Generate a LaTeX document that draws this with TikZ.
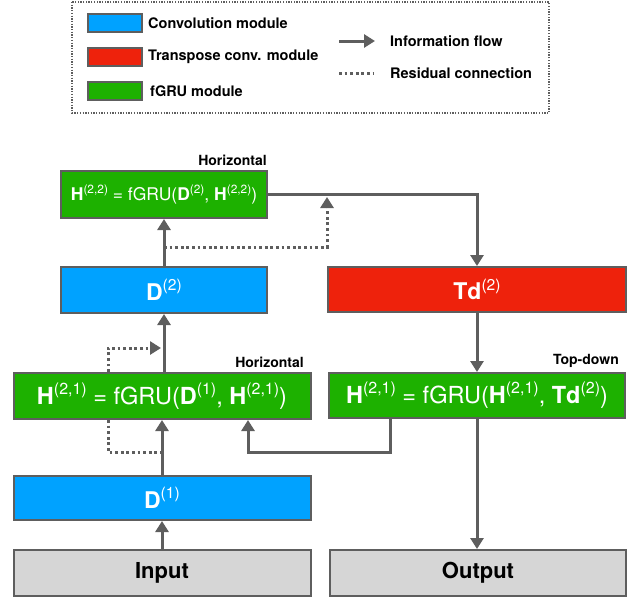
\documentclass[tikz,border=0pt]{standalone}
\usepackage{fontspec}
\setmainfont{TeX Gyre Heros}
\usetikzlibrary{arrows.meta}
\definecolor{cblue}{HTML}{00A2FF}
\definecolor{cred}{HTML}{EE220C}
\definecolor{cgreen}{HTML}{1DB100}
\definecolor{cgray}{HTML}{D6D6D6}
\definecolor{cline}{HTML}{5E5E5E}
\makeatletter
\newcommand\supx[1]{\raisebox{0.42em}{\fontsize{\dimexpr 0.68\dimexpr\f@size pt\relax\relax}{1em}\selectfont\mdseries #1}}
\makeatother
\tikzset{
  box/.style={draw=cline, line width=2pt, inner sep=0pt, text=white, font=\fontsize{23.5}{25}\selectfont},
  convbox/.style={box, fill=cblue},
  tdbox/.style={box, fill=cred},
  grubox/.style={box, fill=cgreen},
  iobox/.style={box, fill=cgray, text=black, font=\fontsize{22}{24}\selectfont\bfseries},
  arr/.style={draw=cline, line width=3pt, -{Triangle[length=11pt,width=13pt]}},
  res/.style={draw=cline, line width=3pt, dash pattern=on 2.8pt off 2.8pt},
  resarr/.style={res, -{Triangle[length=11pt,width=13pt]}},
  lbl/.style={font=\fontsize{14}{16}\selectfont\bfseries, inner sep=0pt},
  legtxt/.style={font=\fontsize{14.5}{17}\selectfont\bfseries, anchor=west, inner sep=0pt},
  swatch/.style={draw=cline, line width=2pt, minimum width=54pt, minimum height=18pt, inner sep=0pt}
}
\begin{document}
\begin{tikzpicture}[x=1pt,y=-1pt]
\useasboundingbox (0,0) rectangle (632,598);
% legend
\draw[cline, line width=1.4pt, dash pattern=on 1.3pt off 1.4pt] (72,2) rectangle (549,113);
\node[swatch, fill=cblue] (s1) at (115,23) {};
\node[swatch, fill=cred] (s2) at (115,57) {};
\node[swatch, fill=cgreen] (s3) at (115,91) {};
\node[legtxt] (t1) at (148,23) {Convolution module};
\node[legtxt] (t2) at (148,57) {Transpose conv. module};
\node[legtxt] (t3) at (150,91) {fGRU module};
\coordinate (la1) at (339,41);
\coordinate (la2) at (375,41);
\draw[arr] (la1) -- (la2);
\node[legtxt] (t4) at (390,41) {Information flow};
\coordinate (lb1) at (339,73);
\coordinate (lb2) at (374,73);
\draw[res] (lb1) -- (lb2);
\node[legtxt] (t5) at (390,73) {Residual connection};
% main boxes
\node[grubox, minimum width=206pt, minimum height=47pt, font=\fontsize{17.5}{20}\selectfont] (h22) at (164,194.5)
  {\textbf{H}\supx{(2,2)} = fGRU(\textbf{D}\supx{(2)}, \textbf{H}\supx{(2,2)})};
\node[lbl, anchor=south east] (lh22) at (267,166) {Horizontal};
\node[convbox, minimum width=206pt, minimum height=46pt, font=\fontsize{23}{25}\selectfont] (d2) at (164,290) {\textbf{D}\supx{(2)}};
\node[tdbox, minimum width=298pt, minimum height=45pt, font=\fontsize{23}{25}\selectfont] (td) at (477,289.5) {\textbf{Td}\supx{(2)}};
\node[grubox, minimum width=297pt, minimum height=46pt] (h21l) at (162,396)
  {\textbf{H}\supx{(2,1)} = fGRU(\textbf{D}\supx{(1)}, \textbf{H}\supx{(2,1)})};
\node[lbl, anchor=south east] (lh21) at (304,368) {Horizontal};
\node[grubox, minimum width=296pt, minimum height=45pt] (h21r) at (477,395.5)
  {\textbf{H}\supx{(2,1)} = fGRU(\textbf{H}\supx{(2,1)}, \textbf{Td}\supx{(2)})};
\node[lbl, anchor=south east] (ltd) at (619,368) {Top-down};
\node[convbox, minimum width=297pt, minimum height=44pt, font=\fontsize{23}{25}\selectfont] (d1) at (162,498) {\textbf{D}\supx{(1)}};
\node[iobox, minimum width=297pt, minimum height=46pt] (inp) at (162,573) {Input};
\node[iobox, minimum width=296pt, minimum height=46pt] (out) at (478,573) {Output};
% connectors
\draw[arr] (inp.north) -- (d1.south);
\draw[arr] (d1.north) -- (h21l.south);
\draw[arr] (h21l.north -| d2.south) -- (d2.south);
\draw[arr] (d2.north) -- (h22.south);
\draw[arr] (h22.east) -| (td.north);
\draw[arr] (td.south) -- (h21r.north);
\draw[arr] (h21r.south) -- (h21r.south |- out.north);
\coordinate (b1) at (390,452);
\coordinate (b2) at (248,452);
\draw[arr] (h21r.south -| b1) -- (b1) -- (b2) -- (b2 |- h21l.south);
% residuals
\coordinate (r1) at (164,247);
\coordinate (r2) at (327,247);
\coordinate (r3) at (327,197);
\draw[resarr] (r1) -- (r2) -- (r3);
\coordinate (q1) at (108,348);
\coordinate (q2) at (161,348);
\draw[resarr] (h21l.north -| q1) -- (q1) -- (q2);
\coordinate (p1) at (108,452);
\coordinate (p2) at (162,452);
\draw[res] (h21l.south -| p1) -- (p1) -- (p2);
\end{tikzpicture}
\end{document}
